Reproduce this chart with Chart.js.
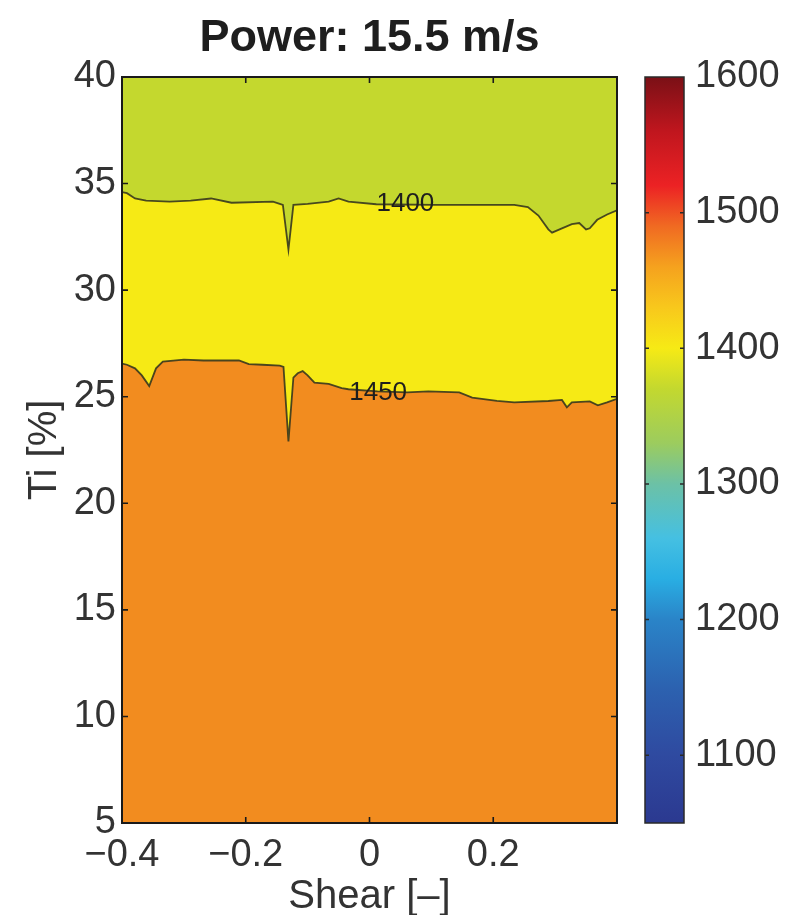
<!DOCTYPE html>
<html>
<head>
<meta charset="utf-8">
<script src="https://cdn.jsdelivr.net/npm/chart.js@4"></script>
<style>
  html, body { margin: 0; padding: 0; background: #ffffff; }
  #wrap { position: relative; width: 799px; height: 915px; }
  canvas { display: block; }
</style>
</head>
<body>
<div id="wrap"><canvas id="c" width="799" height="915"></canvas></div>
<script>
// ---- data ----
const titleText = 'Power: 15.5 m/s';
const xTitle = 'Shear [\u2013]';
const yTitle = 'Ti [%]';
const xTicks = [-0.4, -0.2, 0, 0.2];
const yTicks = [5, 10, 15, 20, 25, 30, 35, 40];
const cbTicks = [1100, 1200, 1300, 1400, 1500, 1600];

// contour 1400 (green / yellow boundary)
const shear1400 = [-0.4, -0.392, -0.379, -0.361, -0.323, -0.289, -0.256, -0.223, -0.156, -0.145, -0.140, -0.131, -0.123, -0.100, -0.066, -0.050, -0.034, 0.011, 0.105, 0.177, 0.234, 0.256, 0.273, 0.289, 0.295, 0.311, 0.327, 0.339, 0.350, 0.356, 0.368, 0.384, 0.4];
const ti1400 = [34.6, 34.55, 34.3, 34.2, 34.15, 34.2, 34.3, 34.1, 34.15, 34.05, 34.0, 31.9, 34.0, 34.05, 34.15, 34.3, 34.15, 34.03, 34.0, 34.0, 34.0, 33.9, 33.5, 32.85, 32.7, 32.9, 33.1, 33.15, 32.85, 32.9, 33.3, 33.55, 33.75];

// contour 1450 (yellow / orange boundary)
const shear1450 = [-0.4, -0.392, -0.379, -0.368, -0.356, -0.345, -0.334, -0.300, -0.268, -0.211, -0.195, -0.173, -0.145, -0.139, -0.131, -0.123, -0.116, -0.108, -0.100, -0.089, -0.066, -0.045, -0.034, 0.013, 0.061, 0.095, 0.145, 0.166, 0.206, 0.234, 0.289, 0.311, 0.319, 0.327, 0.356, 0.369, 0.384, 0.4];
const ti1450 = [26.55, 26.5, 26.33, 26.0, 25.5, 26.33, 26.65, 26.74, 26.7, 26.7, 26.53, 26.5, 26.46, 26.4, 22.9, 25.9, 26.1, 26.2, 26.0, 25.66, 25.6, 25.4, 25.35, 25.25, 25.2, 25.25, 25.2, 24.96, 24.8, 24.73, 24.8, 24.85, 24.5, 24.73, 24.78, 24.6, 24.73, 24.9];

// contour label positions
const contourLevels = [1400, 1450];
const labelShear = [0.058, 0.014];
const labelTi = [34.03, 25.2];

// region colours (below 1450, 1400-1450, above 1400)
const regionColors = ['#f28c1f', '#f6ea15', '#c4d82e'];

// colour bar (jet-like map)
const cbMin = 1050, cbMax = 1600;
const cbValues = [1050, 1100, 1150, 1200, 1230, 1260, 1300, 1330, 1370, 1400, 1430, 1460, 1490, 1520, 1560, 1600];
const cbColors = ['#2b3990', '#2f4aa0', '#2c62b0', '#2a84c8', '#29aee3', '#45c0e2', '#6cc1a6', '#9ccc5e', '#c3d82f', '#f6ea15', '#f8c81c', '#f5a21e', '#f06a22', '#ec2224', '#c0161e', '#7a1016'];

// ---- build ----
const FONT = '"Liberation Sans", Arial, Helvetica, sans-serif';
const TXT = '#333333';
const minus = v => (v < 0 ? '\u2212' + String(Math.abs(v)) : String(v));
const toPts = (xs, ys) => xs.map((x, i) => ({ x: x, y: ys[i] }));
const lineColor = 'rgba(55,55,30,0.9)';

const backgroundPlugin = {
  id: 'bgArea',
  beforeDatasetsDraw(chart) {
    const { ctx, chartArea: a } = chart;
    ctx.save();
    ctx.fillStyle = regionColors[2];
    ctx.fillRect(a.left, a.top, a.right - a.left, a.bottom - a.top);
    ctx.restore();
  }
};

const framePlugin = {
  id: 'frame',
  afterDatasetsDraw(chart) {
    const { ctx, chartArea: a, scales } = chart;
    const xs = scales.x, ys = scales.y, cs = scales.yc;
    const cx = (a.left + a.right) / 2, cy = (a.top + a.bottom) / 2;
    ctx.save();
    // contour labels
    ctx.fillStyle = '#1e1e1e';
    ctx.font = '26px ' + FONT;
    ctx.textAlign = 'center';
    ctx.textBaseline = 'middle';
    contourLevels.forEach((lv, i) => {
      ctx.fillText(String(lv), xs.getPixelForValue(labelShear[i]), ys.getPixelForValue(labelTi[i]));
    });
    // titles
    ctx.fillStyle = '#1e1e1e';
    ctx.font = 'bold 45px ' + FONT;
    ctx.textBaseline = 'alphabetic';
    ctx.fillText(titleText, cx, a.top - 26);
    ctx.fillStyle = TXT;
    ctx.font = '40px ' + FONT;
    ctx.fillText(xTitle, cx, a.bottom + 85);
    ctx.save();
    ctx.translate(a.left - 66, cy);
    ctx.rotate(-Math.PI / 2);
    ctx.fillText(yTitle, 0, 0);
    ctx.restore();
    // axes box
    ctx.strokeStyle = '#1a1a1a';
    ctx.lineWidth = 2;
    ctx.strokeRect(a.left, a.top, a.right - a.left, a.bottom - a.top);
    const tl = 6;
    ctx.lineWidth = 1.6;
    ctx.beginPath();
    xTicks.forEach(v => {
      const px = xs.getPixelForValue(v);
      if (px <= a.left + 1 || px >= a.right - 1) return;
      ctx.moveTo(px, a.bottom); ctx.lineTo(px, a.bottom - tl);
      ctx.moveTo(px, a.top); ctx.lineTo(px, a.top + tl);
    });
    yTicks.forEach(v => {
      const py = ys.getPixelForValue(v);
      if (py <= a.top + 1 || py >= a.bottom - 1) return;
      ctx.moveTo(a.left, py); ctx.lineTo(a.left + tl, py);
      ctx.moveTo(a.right, py); ctx.lineTo(a.right - tl, py);
    });
    ctx.stroke();
    // colour bar
    const cbL = a.right + 28, cbR = a.right + 67;
    const yTop = cs.getPixelForValue(cbMax), yBot = cs.getPixelForValue(cbMin);
    const g = ctx.createLinearGradient(0, yBot, 0, yTop);
    cbValues.forEach((v, i) => g.addColorStop((v - cbMin) / (cbMax - cbMin), cbColors[i]));
    ctx.fillStyle = g;
    ctx.fillRect(cbL, yTop, cbR - cbL, yBot - yTop);
    ctx.strokeStyle = '#2a2a2a';
    ctx.lineWidth = 1.5;
    ctx.strokeRect(cbL, yTop, cbR - cbL, yBot - yTop);
    ctx.beginPath();
    cbTicks.forEach(v => {
      const py = cs.getPixelForValue(v);
      if (py <= yTop + 1) return;
      ctx.moveTo(cbL, py); ctx.lineTo(cbL + 4, py);
      ctx.moveTo(cbR, py); ctx.lineTo(cbR - 4, py);
    });
    ctx.stroke();
    ctx.restore();
  }
};

new Chart(document.getElementById('c'), {
  type: 'line',
  data: {
    datasets: [
      {
        label: '1450',
        data: toPts(shear1450, ti1450),
        borderColor: lineColor,
        borderWidth: 1.8,
        backgroundColor: regionColors[0],
        fill: 'start',
        pointRadius: 0,
        tension: 0,
        order: 0
      },
      {
        label: '1400',
        data: toPts(shear1400, ti1400),
        borderColor: lineColor,
        borderWidth: 1.8,
        backgroundColor: regionColors[1],
        fill: 'start',
        pointRadius: 0,
        tension: 0,
        order: 1
      }
    ]
  },
  options: {
    responsive: false,
    animation: false,
    events: [],
    layout: { padding: { left: 0, right: 0, top: 77, bottom: 0 } },
    plugins: {
      legend: { display: false },
      tooltip: { enabled: false },
      title: { display: false }
    },
    scales: {
      x: {
        type: 'linear',
        min: -0.4,
        max: 0.4,
        afterBuildTicks: s => { s.ticks = xTicks.map(v => ({ value: v })); },
        afterFit: s => { s.height = 92; },
        grid: { display: false, drawTicks: false },
        border: { display: false },
        ticks: {
          color: TXT,
          font: { family: FONT, size: 38 },
          padding: 10,
          maxRotation: 0,
          autoSkip: false,
          callback: v => minus(v)
        }
      },
      y: {
        type: 'linear',
        position: 'left',
        min: 5,
        max: 40,
        afterBuildTicks: s => { s.ticks = yTicks.map(v => ({ value: v })); },
        afterFit: s => { s.width = 122; },
        grid: { display: false, drawTicks: false },
        border: { display: false },
        ticks: {
          color: TXT,
          font: { family: FONT, size: 38 },
          padding: 6,
          autoSkip: false
        }
      },
      yc: {
        type: 'linear',
        position: 'right',
        min: cbMin,
        max: cbMax,
        afterBuildTicks: s => { s.ticks = cbTicks.map(v => ({ value: v })); },
        afterFit: s => { s.width = 182; },
        grid: {
          display: true,
          drawOnChartArea: false,
          drawTicks: true,
          tickLength: 78,
          color: 'rgba(0,0,0,0)'
        },
        border: { display: false },
        ticks: {
          color: TXT,
          font: { family: FONT, size: 38 },
          padding: 0,
          autoSkip: false,
          callback: v => String(v)
        }
      }
    }
  },
  plugins: [backgroundPlugin, framePlugin]
});
</script>
</body>
</html>
